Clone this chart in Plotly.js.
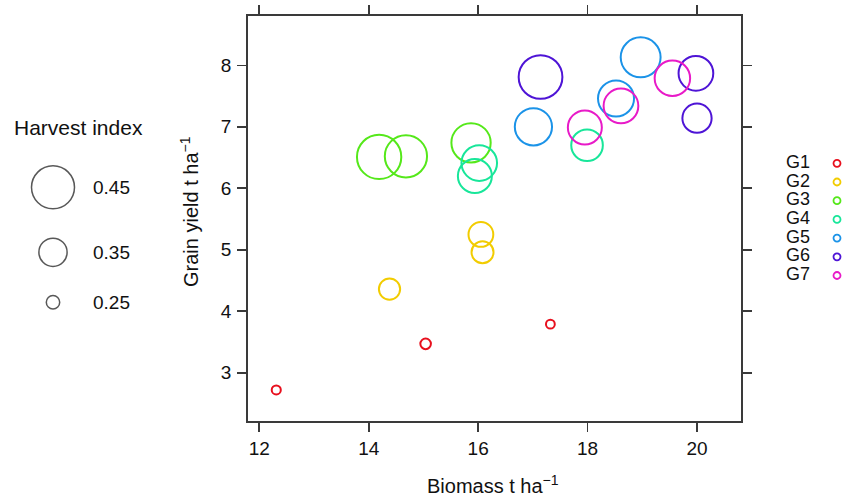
<!DOCTYPE html>
<html><head><meta charset="utf-8">
<script src="https://cdn.plot.ly/plotly-3.0.1.min.js"></script>
<style>html,body{margin:0;padding:0;background:#fff}</style>
</head><body>
<div id="chart" style="width:847px;height:498px"></div>
<script>
// ---- data ----
const groups = ['G1', 'G2', 'G3', 'G4', 'G5', 'G6', 'G7'];
const colors = ['#E8101E', '#F2CC00', '#55E81A', '#18E69A', '#1B93E8', '#4E14D6', '#E81AC8'];
const biomass = [
  [12.31, 15.04, 17.32],
  [14.38, 16.05, 16.08],
  [14.19, 14.68, 15.87],
  [16.02, 15.94, 17.99],
  [17.01, 18.52, 18.97],
  [17.14, 19.98, 20.00],
  [17.95, 18.61, 19.55]
];
const grainYield = [
  [2.72, 3.47, 3.79],
  [4.36, 5.25, 4.96],
  [6.51, 6.52, 6.74],
  [6.41, 6.20, 6.70],
  [7.00, 7.46, 8.13],
  [7.81, 7.87, 7.14],
  [6.99, 7.34, 7.79]
];
const harvestIndex = [
  [0.221, 0.231, 0.219],
  [0.303, 0.327, 0.308],
  [0.459, 0.445, 0.425],
  [0.400, 0.389, 0.373],
  [0.411, 0.403, 0.429],
  [0.455, 0.394, 0.357],
  [0.389, 0.394, 0.399]
];
const hiLegendValues = [0.45, 0.35, 0.25];
const hiLegendLabels = ['0.45', '0.35', '0.25'];
const xTicks = [12, 14, 16, 18, 20];
const yTicks = [3, 4, 5, 6, 7, 8];

// ---- style / layout helpers ----
const W = 847, H = 498;
const FONT = 'Liberation Sans, Arial, Helvetica, sans-serif';
const AX = '#3a3a3a';
function hiToSize(h) { return 2 * (74 * h - 11.8); }

const traces = [];
groups.forEach((g, i) => {
  traces.push({
    type: 'scatter', mode: 'markers', name: g,
    x: biomass[i], y: grainYield[i],
    xaxis: 'x', yaxis: 'y',
    marker: {symbol: 'circle-open', color: colors[i], opacity: 1,
             size: harvestIndex[i].map(hiToSize),
             line: {color: colors[i], width: 2}},
    showlegend: false, hoverinfo: 'x+y+name', cliponaxis: false
  });
});

// size legend (left) in a hidden pixel-unit subplot
const sizeLegX = 53, sizeLegY = [187.3, 252.3, 302.3];
traces.push({
  type: 'scatter', mode: 'markers', xaxis: 'x2', yaxis: 'y2',
  x: hiLegendValues.map(() => sizeLegX), y: sizeLegY,
  marker: {symbol: 'circle-open', color: '#111', size: hiLegendValues.map(hiToSize),
           line: {color: '#111', width: 1.5}},
  showlegend: false, hoverinfo: 'skip', cliponaxis: false
});
// group legend (right)
const grpLegX = 837, grpLegY0 = 163.3, grpLegStep = 18.7;
const grpLegY = groups.map((g, i) => grpLegY0 + i * grpLegStep);
traces.push({
  type: 'scatter', mode: 'markers', xaxis: 'x3', yaxis: 'y2',
  x: groups.map(() => grpLegX), y: grpLegY,
  marker: {symbol: 'circle-open', color: colors, size: 7,
           line: {color: colors, width: 1.8}},
  showlegend: false, hoverinfo: 'skip', cliponaxis: false
});
traces.push({
  type: 'scatter', mode: 'text', xaxis: 'x3', yaxis: 'y2',
  x: groups.map(() => 786), y: grpLegY, text: groups,
  textposition: 'middle right',
  textfont: {family: FONT, size: 18, color: '#111'},
  showlegend: false, hoverinfo: 'skip', cliponaxis: false
});

const annotations = [];
annotations.push({xref: 'paper', yref: 'paper', x: 493 / W, y: 1 - 484 / H,
  text: 'Biomass t ha<sup>\u22121</sup>', showarrow: false, xanchor: 'center', yanchor: 'middle',
  font: {family: FONT, size: 20, color: '#111'}});
annotations.push({xref: 'paper', yref: 'paper', x: 190 / W, y: 1 - 212 / H,
  text: 'Grain yield t ha<sup>\u22121</sup>', showarrow: false, textangle: -90,
  xanchor: 'center', yanchor: 'middle',
  font: {family: FONT, size: 20, color: '#111'}});
annotations.push({xref: 'x2', yref: 'y2', x: 12, y: 127, text: 'Harvest index',
  showarrow: false, xanchor: 'left', yanchor: 'middle',
  font: {family: FONT, size: 21, color: '#111'}});
hiLegendLabels.forEach((t, i) => annotations.push({xref: 'x2', yref: 'y2', x: 91, y: sizeLegY[i],
  text: t, showarrow: false, xanchor: 'left', yanchor: 'middle',
  font: {family: FONT, size: 19, color: '#111'}}));

const baseAxis = {
  showline: true, linecolor: AX, linewidth: 1.6, mirror: 'ticks',
  ticks: 'outside', ticklen: 9, tickwidth: 1.6, tickcolor: AX,
  showgrid: false, zeroline: false, fixedrange: true,
  tickfont: {family: FONT, size: 19, color: '#111'}
};
const layout = {
  width: W, height: H,
  margin: {l: 0, r: 0, t: 0, b: 0},
  paper_bgcolor: '#fff', plot_bgcolor: 'rgba(0,0,0,0)',
  showlegend: false,
  xaxis: Object.assign({}, baseAxis, {domain: [247.7 / W, 741 / W], range: [11.788, 20.804],
    tickmode: 'array', tickvals: xTicks, ticktext: xTicks.map(String), anchor: 'y', ticklabelstandoff: 1}),
  yaxis: Object.assign({}, baseAxis, {domain: [1 - 421 / H, 1 - 15.7 / H], range: [2.215, 8.807],
    tickmode: 'array', tickvals: yTicks, ticktext: yTicks.map(String), anchor: 'x', ticklabelstandoff: 2}),
  xaxis2: {domain: [0, 230 / W], range: [0, 230], visible: false, anchor: 'y2', fixedrange: true},
  xaxis3: {domain: [760 / W, 1], range: [760, 847], visible: false, anchor: 'y2', fixedrange: true},
  yaxis2: {domain: [0, 1], range: [H, 0], visible: false, anchor: 'x2', fixedrange: true},
  annotations: annotations
};
Plotly.newPlot('chart', traces, layout, {displayModeBar: false, staticPlot: true});
</script>
</body></html>
